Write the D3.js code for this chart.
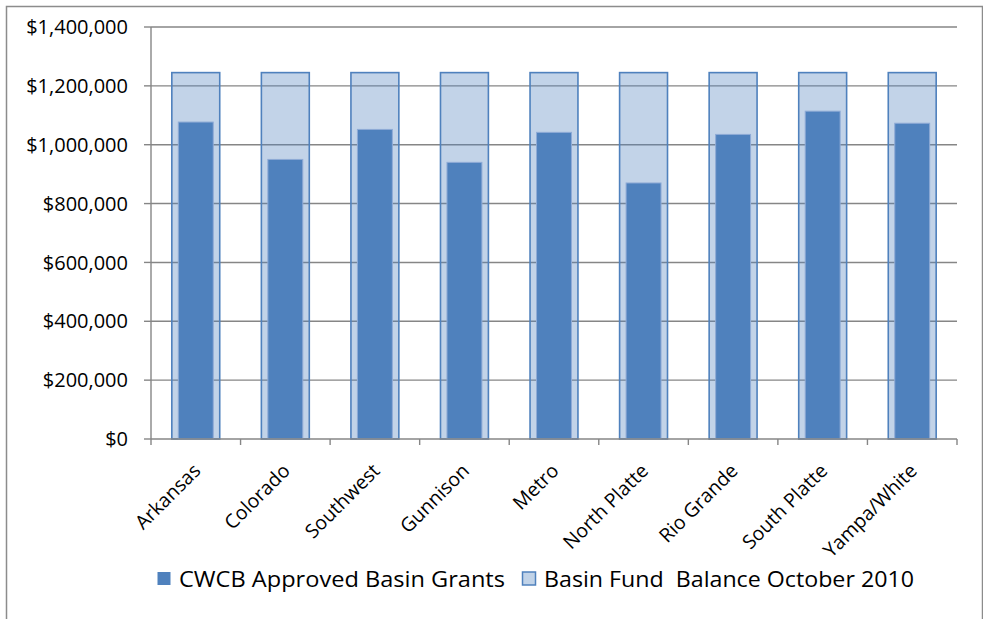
<!DOCTYPE html>
<html>
<head>
<meta charset="utf-8">
<script src="https://cdn.jsdelivr.net/npm/d3@7"></script>
<style>
  body { margin: 0; background: #fff; }
  svg { display: block; font-family: "Open Sans", sans-serif; }
</style>
</head>
<body>
<svg class="chart" width="983" height="619"></svg>
<script>
//------------------------------------------------------------------------------
//Data
//------------------------------------------------------------------------------
var basins = ["Arkansas", "Colorado", "Southwest", "Gunnison", "Metro",
  "North Platte", "Rio Grande", "South Platte", "Yampa/White"];
var approvedGrants = [1077000, 950000, 1052000, 940000, 1042000, 870000, 1035000, 1114000, 1073000];
var fundBalance = [1245000, 1245000, 1245000, 1245000, 1245000, 1245000, 1245000, 1245000, 1245000];
var yTicks = [0, 200000, 400000, 600000, 800000, 1000000, 1200000, 1400000];
var seriesNames = ["CWCB Approved Basin Grants", "Basin Fund  Balance October 2010"];

//------------------------------------------------------------------------------
//Chart
//------------------------------------------------------------------------------
function drawChart() {
  var svg = d3.select(".chart");
  var left = 151, right = 957, top = 27, bottom = 439;
  var gridColor = "#868686";
  var blue = "#4f81bd";

  // outer chart border (bottom runs off the picture)
  svg.append("rect")
    .attr("x", 6.5).attr("y", 6.5)
    .attr("width", 976).attr("height", 640)
    .attr("fill", "none")
    .attr("stroke", "#8c8c8c")
    .attr("stroke-width", 1.5);

  var x = d3.scaleBand().domain(basins).range([left, right]);
  var y = d3.scaleLinear().domain([0, 1400000]).range([bottom, top]);
  var fmt = d3.format(",");

  // gridlines
  svg.append("g")
    .selectAll("line")
    .data(yTicks.slice(1))
    .enter()
    .append("line")
      .attr("x1", left).attr("x2", right)
      .attr("y1", function (d) { return y(d); })
      .attr("y2", function (d) { return y(d); })
      .attr("stroke", gridColor)
      .attr("stroke-width", 1.4);

  // light bars (fund balance)
  var lightW = x.bandwidth() * 0.535;
  svg.append("g")
    .selectAll("rect")
    .data(fundBalance)
    .enter()
    .append("rect")
      .attr("x", function (d, i) { return x(basins[i]) + (x.bandwidth() - lightW) / 2; })
      .attr("y", function (d) { return y(d); })
      .attr("width", lightW)
      .attr("height", function (d) { return bottom - y(d); })
      .attr("fill", blue)
      .attr("fill-opacity", 0.35)
      .attr("stroke", blue)
      .attr("stroke-width", 1.6);

  // dark bars (approved grants)
  var darkW = x.bandwidth() * 0.39;
  svg.append("g")
    .selectAll("rect")
    .data(approvedGrants)
    .enter()
    .append("rect")
      .attr("x", function (d, i) { return x(basins[i]) + (x.bandwidth() - darkW) / 2; })
      .attr("y", function (d) { return y(d); })
      .attr("width", darkW)
      .attr("height", function (d) { return bottom - y(d); })
      .attr("fill", blue)
      .attr("stroke", "#8fabd6")
      .attr("stroke-width", 1);

  // y axis
  svg.append("line")
    .attr("x1", left).attr("x2", left)
    .attr("y1", top).attr("y2", bottom)
    .attr("stroke", gridColor).attr("stroke-width", 1.4);
  var yg = svg.append("g").selectAll("g").data(yTicks).enter().append("g");
  yg.append("line")
    .attr("x1", left - 7).attr("x2", left)
    .attr("y1", function (d) { return y(d); })
    .attr("y2", function (d) { return y(d); })
    .attr("stroke", gridColor).attr("stroke-width", 1.4);
  yg.append("text")
    .attr("x", 128)
    .attr("y", function (d) { return y(d); })
    .attr("dy", "0.36em")
    .attr("text-anchor", "end")
    .attr("font-size", "20px")
    .attr("fill", "#000")
    .text(function (d) { return "$" + fmt(d); });

  // x axis
  svg.append("line")
    .attr("x1", left).attr("x2", right)
    .attr("y1", bottom).attr("y2", bottom)
    .attr("stroke", gridColor).attr("stroke-width", 1.4);
  var edges = basins.map(function (b) { return x(b); }).concat([right]);
  svg.append("g")
    .selectAll("line")
    .data(edges)
    .enter()
    .append("line")
      .attr("x1", function (d) { return d; })
      .attr("x2", function (d) { return d; })
      .attr("y1", bottom).attr("y2", bottom + 6)
      .attr("stroke", gridColor).attr("stroke-width", 1.4);

  svg.append("g")
    .selectAll("text")
    .data(basins)
    .enter()
    .append("text")
      .attr("transform", function (d) {
        return "translate(" + (x(d) + x.bandwidth() / 2 + 6) + "," + 472 + ") rotate(-45)";
      })
      .attr("text-anchor", "end")
      .attr("font-size", "19.5px")
      .attr("fill", "#000")
      .text(function (d) { return d; });

  // legend
  var legend = [
    { x: 157, name: seriesNames[0], fill: blue, stroke: "none", len: 326 },
    { x: 522, name: seriesNames[1], fill: "#c1d3e8", stroke: blue, len: 370 }
  ];
  var lg = svg.append("g").selectAll("g").data(legend).enter().append("g");
  lg.append("rect")
    .attr("x", function (d) { return d.x + 0.5; })
    .attr("y", 572)
    .attr("width", 13).attr("height", 13)
    .attr("fill", function (d) { return d.fill; })
    .attr("stroke", function (d) { return d.stroke; })
    .attr("stroke-width", 1.5);
  lg.append("text")
    .attr("x", function (d) { return d.x + 22; })
    .attr("y", 587)
    .attr("font-size", "21.5px")
    .attr("fill", "#000")
    .attr("textLength", function (d) { return d.len; })
    .attr("lengthAdjust", "spacingAndGlyphs")
    .style("white-space", "pre")
    .text(function (d) { return d.name; });
}

drawChart();
</script>
</body>
</html>
